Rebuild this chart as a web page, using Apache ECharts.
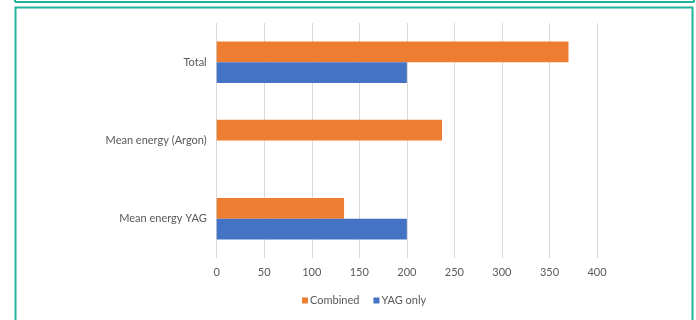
<!DOCTYPE html>
<html>
<head>
<meta charset="utf-8">
<script src="https://cdn.jsdelivr.net/npm/echarts@6/dist/echarts.min.js"></script>
<style>
html,body{margin:0;padding:0;background:#fff;}
#c{width:696px;height:320px;}
</style>
</head>
<body>
<div id="c"></div>
<script>
const categories = ['Mean energy YAG', 'Mean energy (Argon)', 'Total'];
const combined = [134, 237, 370];
const yagOnly = [200, null, 200];
const xTicks = { min: 0, max: 400, interval: 50 };

const chart = echarts.init(document.getElementById('c'));
const teal = '#1DB59B';
chart.setOption({
  animation: false,
  textStyle: { fontFamily: 'Lato' },
  graphic: [
    { type: 'line', shape: { x1: 15, y1: 2, x2: 694, y2: 2 }, style: { stroke: teal, lineWidth: 2 } },
    { type: 'line', shape: { x1: 15, y1: 0, x2: 15, y2: 2 }, style: { stroke: teal, lineWidth: 2 } },
    { type: 'line', shape: { x1: 694, y1: 0, x2: 694, y2: 2 }, style: { stroke: teal, lineWidth: 2 } },
    { type: 'polyline', shape: { points: [[15.5, 320], [15.5, 7.5], [692.5, 7.5], [692.5, 320]] }, style: { stroke: teal, lineWidth: 2, fill: null } }
  ],
  grid: { left: 216.7, right: 99, top: 23, bottom: 62 },
  legend: {
    data: ['Combined', 'YAG only'],
    left: 297, top: 290,
    icon: 'rect', itemWidth: 6, itemHeight: 6, itemGap: 14,
    textStyle: { color: '#595959', fontSize: 11, fontFamily: 'Lato', padding: [0, 0, 0, -3] }
  },
  xAxis: {
    type: 'value', min: xTicks.min, max: xTicks.max, interval: xTicks.interval,
    axisLine: { show: false }, axisTick: { show: false },
    axisLabel: { color: '#595959', fontSize: 11, margin: 9 },
    splitLine: { lineStyle: { color: '#D9D9D9', width: 1 } }
  },
  yAxis: {
    type: 'category', data: categories,
    axisLine: { show: false }, axisTick: { show: false },
    axisLabel: { color: '#595959', fontSize: 11, margin: 10 }
  },
  series: [
    { name: 'Combined', type: 'bar', data: combined, itemStyle: { color: '#ED7D31' }, barGap: '0%', barCategoryGap: '47%' },
    { name: 'YAG only', type: 'bar', data: yagOnly, itemStyle: { color: '#4472C4' }, barGap: '0%', barCategoryGap: '47%' }
  ]
});
</script>
</body>
</html>
